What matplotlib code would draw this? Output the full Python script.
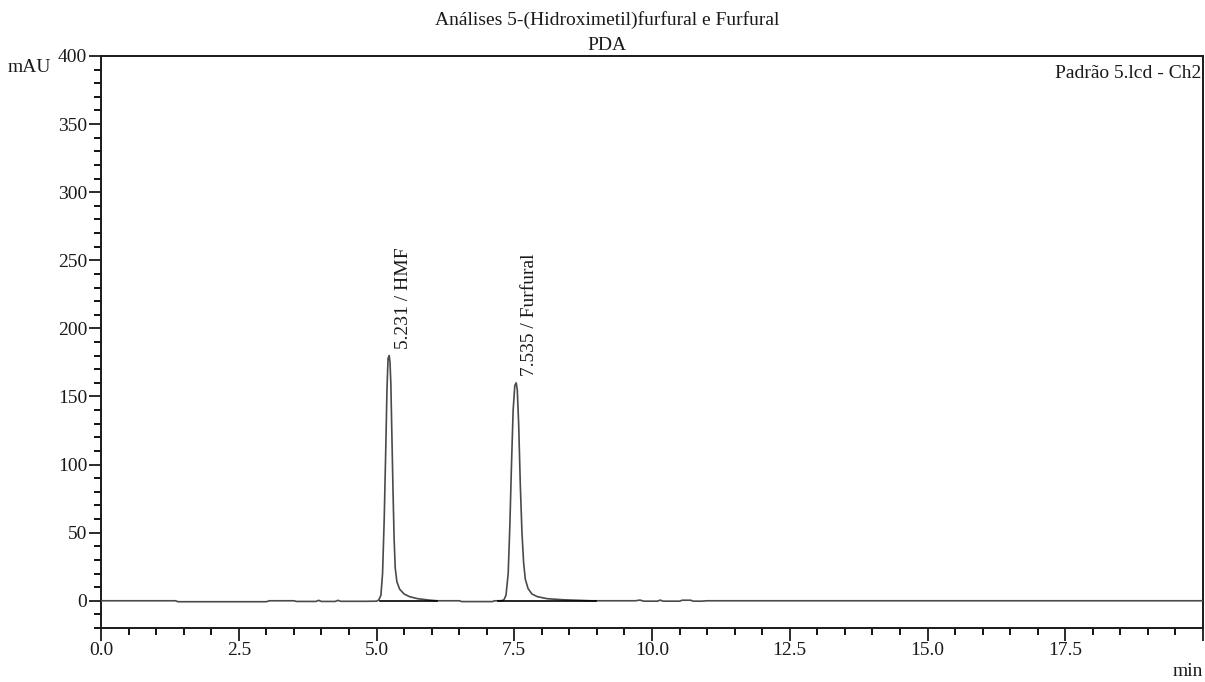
import numpy as np
import matplotlib
matplotlib.use("Agg")
import matplotlib.pyplot as plt
from matplotlib.ticker import MultipleLocator, FixedLocator

# ---- data (time in min, signal in mAU) ----
time_min = [0.00, 1.35, 1.40, 3.00, 3.06, 3.50, 3.55, 3.90, 3.95, 4.00, 4.25, 4.30, 4.35,
            4.80, 5.00, 5.04, 5.08, 5.11, 5.14, 5.17, 5.19, 5.21, 5.231, 5.245, 5.26,
            5.28, 5.30, 5.32, 5.34, 5.37, 5.42, 5.50, 5.60, 5.75, 5.95, 6.10, 6.50,
            6.55, 7.10, 7.15, 7.25, 7.31, 7.35, 7.39, 7.42, 7.45, 7.48, 7.51, 7.535,
            7.555, 7.58, 7.61, 7.64, 7.67, 7.70, 7.75, 7.82, 7.92, 8.10, 8.40, 8.90,
            9.70, 9.78, 9.85, 10.10, 10.15, 10.20, 10.50, 10.55, 10.70, 10.75, 10.90,
            11.00, 20.00]
signal_mau = [0.0, 0.0, -0.7, -0.7, 0.0, 0.0, -0.5, -0.5, 0.3, -0.5, -0.5, 0.3, -0.4,
              -0.4, -0.3, 0.5, 4.0, 20.0, 60.0, 115.0, 155.0, 178.0, 180.0, 175.0, 160.0,
              120.0, 80.0, 45.0, 24.0, 14.0, 8.5, 5.0, 3.0, 1.5, 0.5, 0.0, 0.0,
              -0.6, -0.6, 0.0, 0.0, 0.5, 4.0, 20.0, 55.0, 100.0, 140.0, 158.0, 160.0,
              155.0, 130.0, 85.0, 50.0, 28.0, 16.0, 9.0, 5.0, 3.0, 1.5, 0.7, 0.0,
              0.0, 0.5, -0.3, -0.3, 0.5, -0.3, -0.3, 0.4, 0.4, -0.3, -0.3,
              0.0, 0.0]

# integration baselines drawn under the two peaks
baseline_start = [5.06, 7.20]
baseline_end = [6.09, 8.98]

# peak labels
peak_times = [5.231, 7.535]
peak_heights = [180.0, 160.0]
peak_names = ["HMF", "Furfural"]

x_major = [0.0, 2.5, 5.0, 7.5, 10.0, 12.5, 15.0, 17.5, 20.0]
x_labels = ["0.0", "2.5", "5.0", "7.5", "10.0", "12.5", "15.0", "17.5", ""]
y_major = [0, 50, 100, 150, 200, 250, 300, 350, 400]

title_line1 = "Análises 5-(Hidroximetil)furfural e Furfural"
title_line2 = "PDA"
file_label = "Padrão 5.lcd - Ch2"

plt.rcParams['font.family'] = ['Liberation Serif', 'DejaVu Serif']

fig = plt.figure(figsize=(12.05, 6.82), dpi=100)
ax = fig.add_axes([101 / 1205, 1 - 628 / 682, (1203 - 101) / 1205, (628 - 56) / 682])

ax.plot(time_min, signal_mau, color="#4a4a4a", lw=1.2, zorder=3)
for s, e in zip(baseline_start, baseline_end):
    ax.plot([s, e], [0, 0], color="black", lw=1.2, zorder=4)

for t, h, n in zip(peak_times, peak_heights, peak_names):
    ax.text(t + 0.25, h + 5, f"{t:.3f} / {n}", rotation=90, ha="center", va="bottom",
            fontsize=14, color="#1a1a1a")

ax.set_xlim(0, 20)
ax.set_ylim(-20, 400)
ax.xaxis.set_major_locator(FixedLocator(x_major))
ax.set_xticklabels(x_labels)
ax.xaxis.set_minor_locator(MultipleLocator(0.5))
ax.yaxis.set_major_locator(FixedLocator(y_major))
ax.yaxis.set_minor_locator(MultipleLocator(10))
ax.tick_params(axis="both", which="major", direction="out", length=9, width=1.3,
               labelsize=14, pad=1, colors="#1a1a1a")
ax.tick_params(axis="both", which="minor", direction="out", length=5, width=1.3)
for sp in ax.spines.values():
    sp.set_linewidth(1.4)
    sp.set_color("#1a1a1a")

fig.text(607 / 1205, 1 - 20 / 682, title_line1, ha="center", va="center", fontsize=14, color="#1a1a1a")
fig.text(607 / 1205, 1 - 45 / 682, title_line2, ha="center", va="center", fontsize=14, color="#1a1a1a")
fig.text(8 / 1205, 1 - 68 / 682, "mAU", ha="left", va="center", fontsize=14, color="#1a1a1a")
fig.text(1203 / 1205, 1 - 672 / 682, "min", ha="right", va="center", fontsize=14, color="#1a1a1a")
ax.text(0.9985, 0.985, file_label, transform=ax.transAxes, ha="right", va="top",
        fontsize=14, color="#1a1a1a")

fig.savefig("out.png", dpi=100)
